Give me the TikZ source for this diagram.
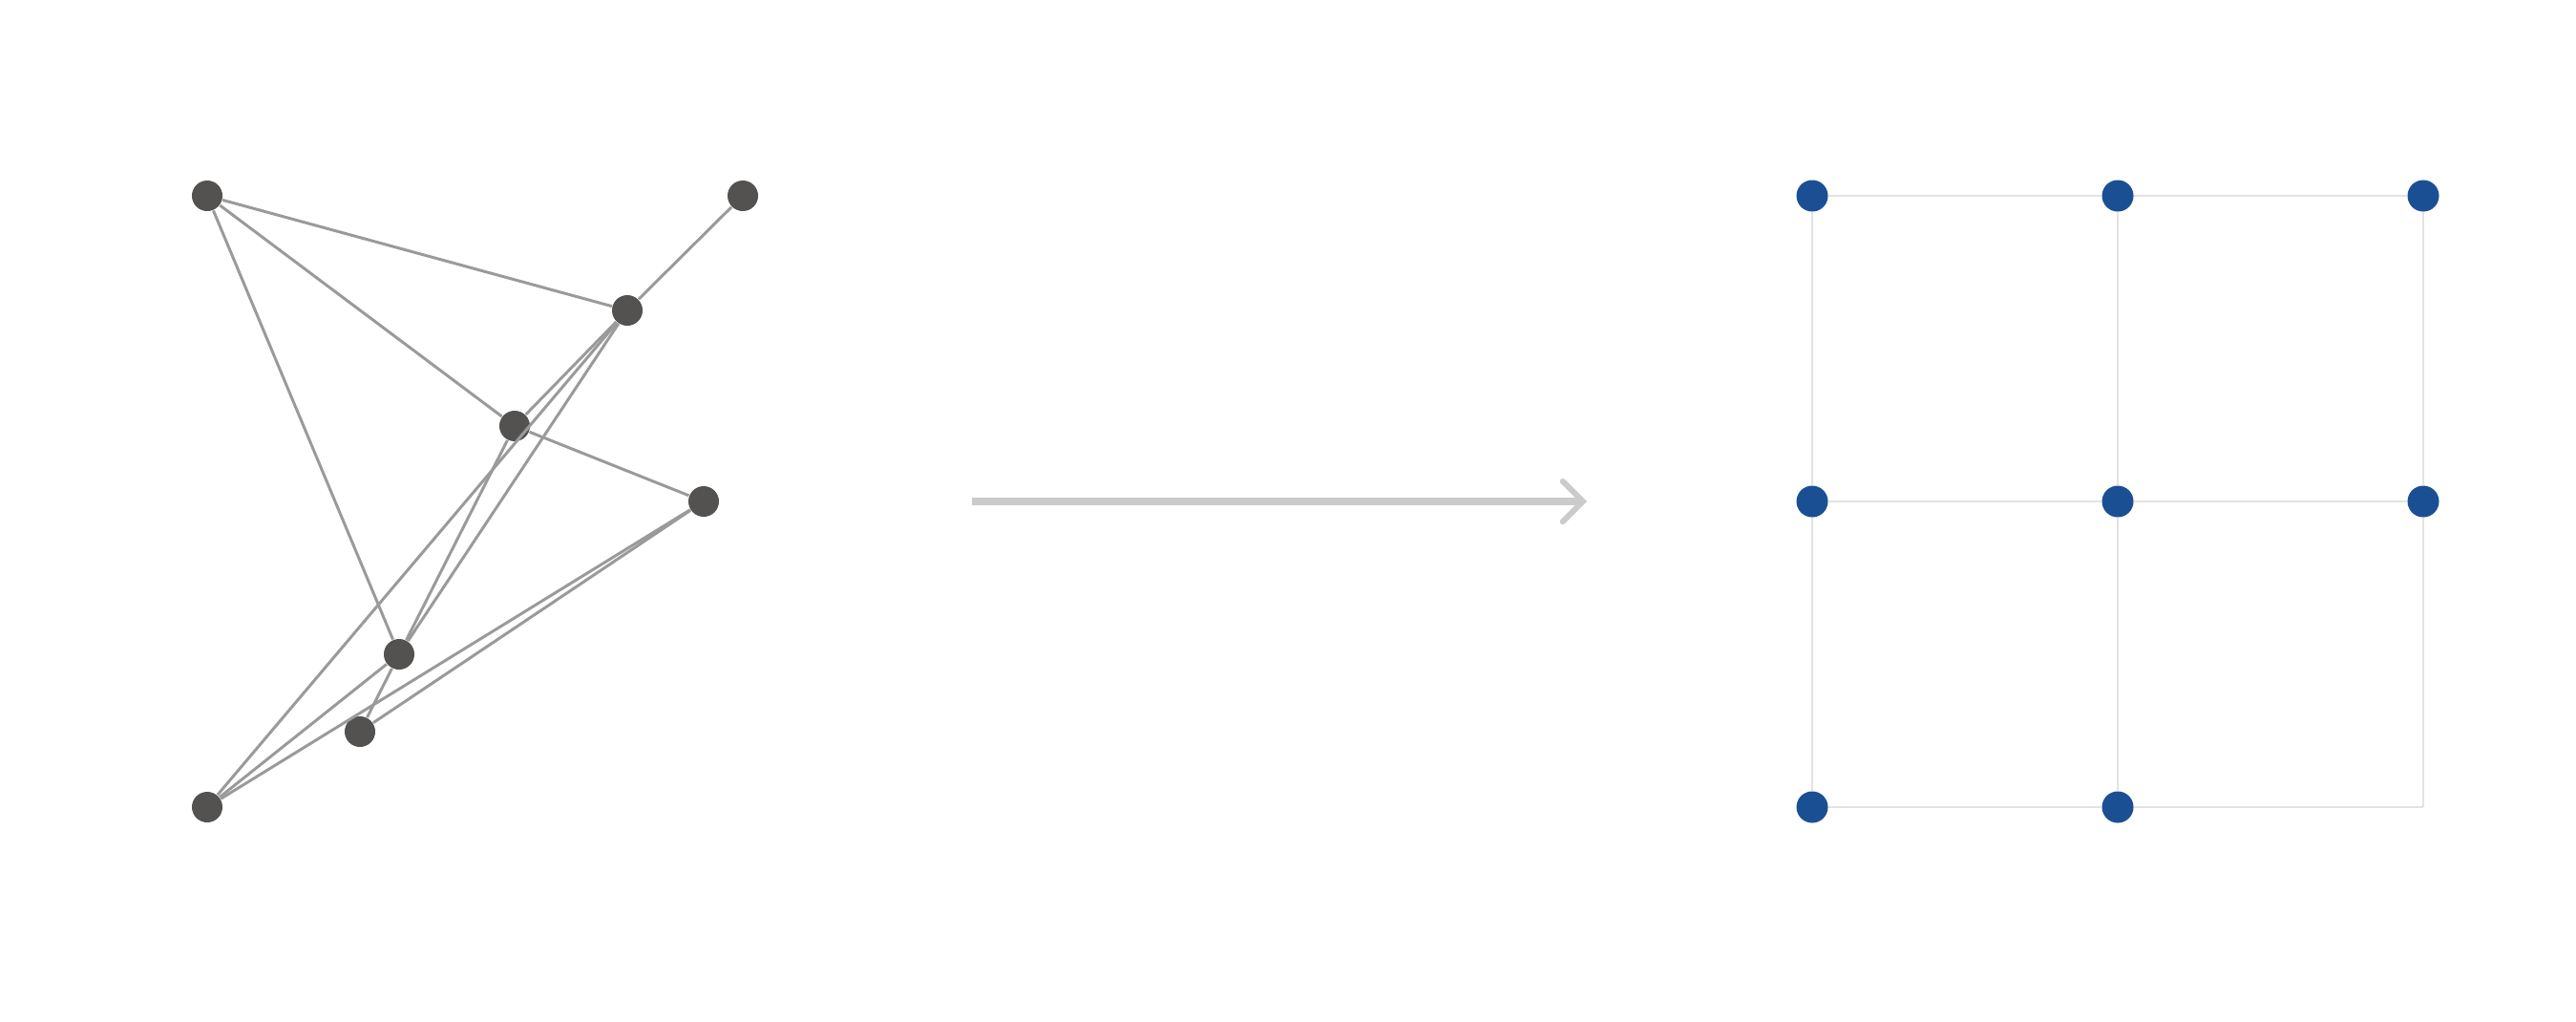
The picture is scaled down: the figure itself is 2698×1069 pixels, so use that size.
\documentclass[tikz,border=0pt]{standalone}
\usetikzlibrary{arrows.meta}
\definecolor{vertgray}{HTML}{545250}
\definecolor{edgegray}{HTML}{9A9A9A}
\definecolor{gridblue}{HTML}{1B4F94}
\definecolor{gridline}{HTML}{E2E2E2}
\definecolor{arrowgray}{HTML}{CBCBCB}

\begin{document}
\begin{tikzpicture}[x=0.01cm,y=-0.01cm,
    vert/.style={circle,fill=vertgray,inner sep=0pt,minimum size=0.32cm},
    gvert/.style={circle,fill=gridblue,inner sep=0pt,minimum size=0.33cm},
    edge/.style={edgegray,line width=0.85pt},
    gedge/.style={gridline,line width=0.6pt}]
    \useasboundingbox (0,0) rectangle (2698,1069);
                    % tangled graph
                    \node[vert] (a) at (217,205) {};
                    \node[vert] (b) at (778,205) {};
                    \node[vert] (c) at (657,325) {};
                    \node[vert] (d) at (539,446) {};
                    \node[vert] (e) at (737,525) {};
                    \node[vert] (f) at (418,685) {};
                    \node[vert] (g) at (377,766) {};
                    \node[vert] (h) at (217,845) {};
                    \draw[edge] (a)--(c);
                    \draw[edge] (a)--(d);
                    \draw[edge] (a)--(f);
                    \draw[edge] (b)--(c);
                    \draw[edge] (c)--(d);
                    \draw[edge] (c)--(h);
                    \draw[edge] (c)--(f);
                    \draw[edge] (d)--(e);
                    \draw[edge] (d)--(f);
                    \draw[edge] (e)--(h);
                    \draw[edge] (e)--(g);
                    \draw[edge] (f)--(g);
                    \draw[edge] (f)--(h);
                    % arrow
                    \coordinate (s) at (1018,525);
                    \coordinate (t) at (1662,525);
                    \draw[arrowgray,line width=2.2pt,-{Straight Barb[length=6pt,width=12pt,line cap=round,line width=1.7pt]}] (s)--(t);
                    % grid graph
                    \node[gvert] (g11) at (1898,205) {};
                    \node[gvert] (g12) at (2218,205) {};
                    \node[gvert] (g13) at (2538,205) {};
                    \node[gvert] (g21) at (1898,525) {};
                    \node[gvert] (g22) at (2218,525) {};
                    \node[gvert] (g23) at (2538,525) {};
                    \node[gvert] (g31) at (1898,845) {};
                    \node[gvert] (g32) at (2218,845) {};
                    \coordinate (g33) at (2538,845);
                    \draw[gedge] (g11)--(g12);
                    \draw[gedge] (g12)--(g13);
                    \draw[gedge] (g21)--(g22);
                    \draw[gedge] (g22)--(g23);
                    \draw[gedge] (g31)--(g32);
                    \draw[gedge] (g32)--(g33);
                    \draw[gedge] (g11)--(g21);
                    \draw[gedge] (g21)--(g31);
                    \draw[gedge] (g12)--(g22);
                    \draw[gedge] (g22)--(g32);
                    \draw[gedge] (g13)--(g23);
                    \draw[gedge] (g23)--(g33);
                \end{tikzpicture}
\end{document}
